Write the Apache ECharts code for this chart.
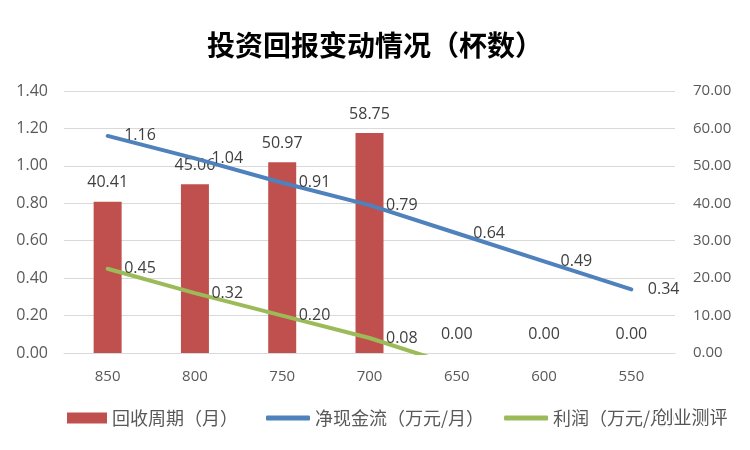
<!DOCTYPE html>
<html>
<head>
<meta charset="utf-8">
<script src="https://cdn.jsdelivr.net/npm/echarts@6/dist/echarts.min.js"></script>
<style>
  html, body { margin: 0; padding: 0; background: #fff; }
  #chart { width: 750px; height: 450px; }
</style>
</head>
<body>
<div id="chart"></div>
<script>
// 数据
var categories = ['850', '800', '750', '700', '650', '600', '550']
var payback = [40.41, 45.06, 50.97, 58.75, 0, 0, 0] // 回收周期（月）
var cashFlow = [1.16, 1.04, 0.91, 0.79, 0.64, 0.49, 0.34] // 净现金流（万元/月）
var profit = [0.45, 0.32, 0.20, 0.08, -0.07, -0.19, -0.31] // 利润（万元/月），负值被裁掉

var labelFont = { fontFamily: 'Open Sans, Noto Sans CJK SC', fontSize: 16, color: '#404040' }
var legendText = { fontFamily: 'Noto Sans CJK SC', fontSize: 18, color: '#595959' }

var chart = echarts.init(document.getElementById('chart'))
var option = {
  animation: false,
  title: {
    text: '投资回报变动情况（杯数）',
    left: 'center',
    top: 26,
    textStyle: { fontFamily: 'Noto Sans CJK SC', fontSize: 28, fontWeight: 'bold', color: '#000' }
  },
  legend: [
    {
      top: 404,
      left: 62,
      itemWidth: 40,
      itemHeight: 11,
      textStyle: legendText,
      data: [{ name: '回收周期（月）', icon: 'rect' }]
    },
    {
      top: 404,
      left: 261,
      itemGap: 20,
      itemWidth: 44,
      itemHeight: 5,
      textStyle: legendText,
      data: [
        { name: '净现金流（万元/月）', icon: 'roundRect' },
        { name: '利润（万元/月）', icon: 'roundRect' }
      ]
    }
  ],
  grid: { left: 64, right: 75, top: 91, bottom: 97 },
  xAxis: {
    type: 'category',
    data: categories,
    axisLine: { lineStyle: { color: '#d9d9d9', width: 1 } },
    axisTick: { show: false },
    axisLabel: { fontFamily: 'Open Sans', fontSize: 15, color: '#595959', margin: 16 }
  },
  yAxis: [
    {
      type: 'value',
      min: 0,
      max: 1.4,
      interval: 0.2,
      axisLabel: { fontFamily: 'Open Sans', fontSize: 16, color: '#595959', margin: 16,
        formatter: function (v) { return v.toFixed(2) } },
      splitLine: { lineStyle: { color: '#d9d9d9' } },
      axisLine: { show: false },
      axisTick: { show: false }
    },
    {
      type: 'value',
      min: 0,
      max: 70,
      interval: 10,
      axisLabel: { fontFamily: 'Open Sans', fontSize: 15, color: '#595959', margin: 18,
        formatter: function (v) { return v.toFixed(2) } },
      splitLine: { show: false },
      axisLine: { show: false },
      axisTick: { show: false }
    }
  ],
  series: [
    {
      name: '回收周期（月）',
      type: 'bar',
      yAxisIndex: 1,
      barWidth: 28,
      itemStyle: { color: '#C0504D' },
      label: Object.assign({ show: true, position: 'top', distance: 11,
        formatter: function (p) { return p.value.toFixed(2) } }, labelFont),
      data: payback
    },
    {
      name: '净现金流（万元/月）',
      type: 'line',
      yAxisIndex: 0,
      symbol: 'circle',
      symbolSize: 1,
      lineStyle: { color: '#4F81BD', width: 4, cap: 'round' },
      itemStyle: { color: '#4F81BD' },
      label: Object.assign({ show: true, position: 'right', distance: 16,
        formatter: function (p) { return p.value.toFixed(2) } }, labelFont),
      data: cashFlow
    },
    {
      name: '利润（万元/月）',
      type: 'line',
      yAxisIndex: 0,
      symbol: 'circle',
      symbolSize: 1,
      clip: true,
      lineStyle: { color: '#9BBB59', width: 4, cap: 'round' },
      itemStyle: { color: '#9BBB59' },
      label: Object.assign({ show: true, position: 'right', distance: 16,
        formatter: function (p) { return p.value < 0 ? '' : p.value.toFixed(2) } }, labelFont),
      data: profit
    }
  ],
  graphic: [
    {
      type: 'text',
      left: 654,
      top: 407,
      z: 100,
      style: {
        text: '创业测评',
        font: '18px "Noto Sans CJK SC"',
        fill: '#555',
        stroke: '#fff',
        lineWidth: 3
      }
    }
  ]
}
chart.setOption(option)
</script>
</body>
</html>
